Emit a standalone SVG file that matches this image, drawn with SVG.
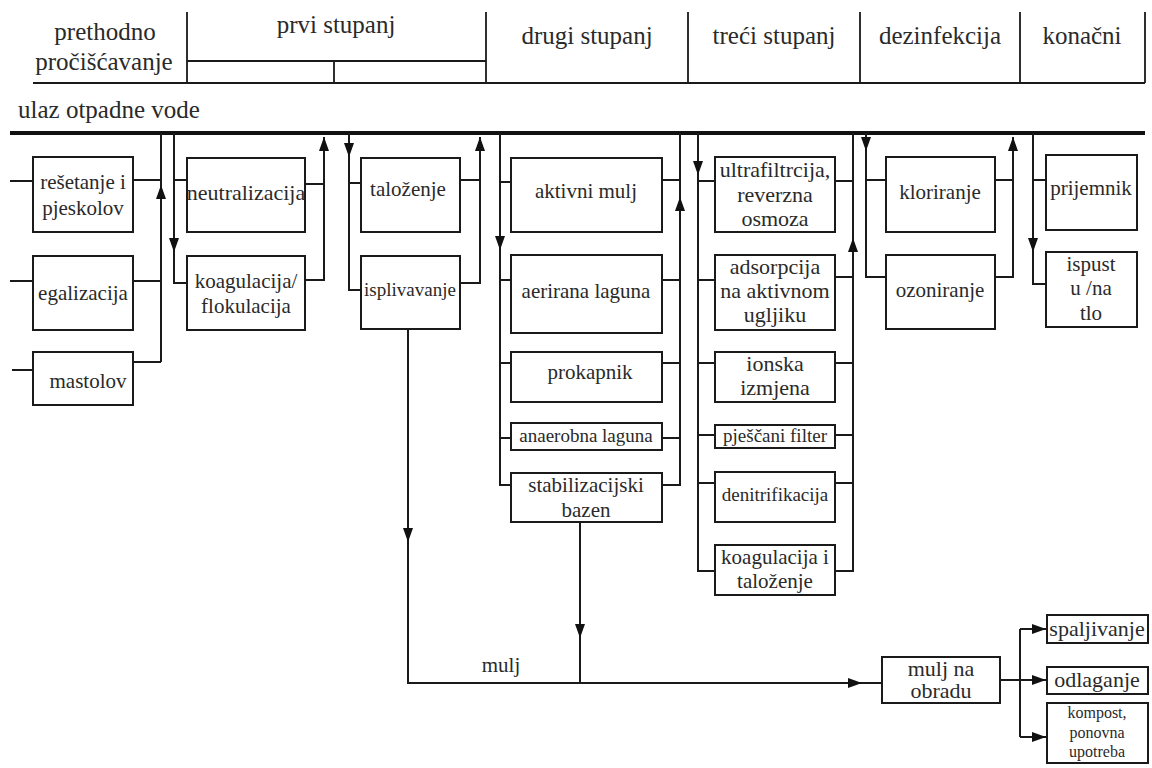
<svg xmlns="http://www.w3.org/2000/svg" width="1152" height="768" viewBox="0 0 1152 768">
<defs>
<style>
.bg{fill:#ffffff}
.box{fill:#ffffff;stroke:#1a1a1a;stroke-width:2}
.ln{fill:none;stroke:#1a1a1a;stroke-width:2}
.hd{fill:none;stroke:#1a1a1a;stroke-width:1.8}
.main{fill:none;stroke:#111111;stroke-width:4}
text{fill:#2a2a2a;text-anchor:middle}
.h{font-size:25px}
.t{font-size:21px}
.m{font-size:22px}
.s{font-size:19px}
.xs{font-size:16px}
</style>
<marker id="arr" markerUnits="userSpaceOnUse" markerWidth="14" markerHeight="10" refX="14" refY="5" orient="auto">
<path d="M0,0 L14,5 L0,10 z" fill="#111111"/>
</marker>
</defs>
<rect class="bg" x="0" y="0" width="1152" height="768"/>

<g id="header">
<path class="hd" d="M33,83 H1145 M187,12 V83 M486,12 V83 M688,12 V83 M860,12 V83 M1020,12 V83 M1145,12 V83 M187,61 H486 M334,61 V83"/>
<text class="h" font-family="Liberation Serif, serif" x="105" y="40">prethodno</text>
<text class="h" font-family="Liberation Serif, serif" x="104" y="70">pročišćavanje</text>
<text class="h" font-family="Liberation Serif, serif" x="336" y="33">prvi stupanj</text>
<text class="h" font-family="Liberation Serif, serif" x="587" y="44">drugi stupanj</text>
<text class="h" font-family="Liberation Serif, serif" x="774" y="44">treći stupanj</text>
<text class="h" font-family="Liberation Serif, serif" x="940" y="44">dezinfekcija</text>
<text class="h" font-family="Liberation Serif, serif" x="1082" y="44">konačni</text>
<text font-family="Liberation Serif, serif" x="18" y="118" style="text-anchor:start;font-size:25px">ulaz otpadne vode</text>
</g>

<g id="connectors">
<path class="main" d="M10,133 H1145"/>
<path class="ln" d="M10,181 H33 M10,281 H33 M12,370 H33"/>
<path class="ln" d="M133,180 H161 M133,281 H161 M133,362 H161"/>
<path class="ln" d="M161,362 V185" marker-end="url(#arr)"/>
<path class="ln" d="M161,185 V133"/>
<path class="ln" d="M174,133 V252" marker-end="url(#arr)"/>
<path class="ln" d="M174,252 V283 H187 M174,180 H187"/>
<path class="ln" d="M305,184 H324 M305,280 H324 V152"/>
<path class="ln" d="M324,152 V137" marker-end="url(#arr)"/>
<path class="ln" d="M349,133 V157" marker-end="url(#arr)"/>
<path class="ln" d="M349,157 V290 H361 M349,183 H361"/>
<path class="ln" d="M460,180 H480 M460,283 H480 V152"/>
<path class="ln" d="M480,152 V137" marker-end="url(#arr)"/>
<path class="ln" d="M408,330 V542" marker-end="url(#arr)"/>
<path class="ln" d="M408,542 V683 H862" marker-end="url(#arr)"/>
<path class="ln" d="M862,683 H882"/>
<path class="ln" d="M500,133 V250" marker-end="url(#arr)"/>
<path class="ln" d="M500,250 V485 H511 M500,182 H511 M500,280 H511 M500,363 H511 M500,438 H511"/>
<path class="ln" d="M662,180 H680 M662,280 H680 M662,363 H680 M662,438 H680 M662,485 H680 V212"/>
<path class="ln" d="M680,212 V197" marker-end="url(#arr)"/>
<path class="ln" d="M680,197 V133"/>
<path class="ln" d="M580,522 V638" marker-end="url(#arr)"/>
<path class="ln" d="M580,638 V683"/>
<path class="ln" d="M698,133 V175" marker-end="url(#arr)"/>
<path class="ln" d="M698,175 V571 H715 M698,181 H715 M698,280 H715 M698,363 H715 M698,435 H715 M698,483 H715"/>
<path class="ln" d="M835,181 H853 M835,277 H853 M835,363 H853 M835,435 H853 M835,483 H853 M835,571 H853 V252"/>
<path class="ln" d="M853,252 V238" marker-end="url(#arr)"/>
<path class="ln" d="M853,238 V133"/>
<path class="ln" d="M866,133 V151" marker-end="url(#arr)"/>
<path class="ln" d="M866,151 V277 H885 M866,180 H885"/>
<path class="ln" d="M995,180 H1013 M995,277 H1013 V152"/>
<path class="ln" d="M1013,152 V137" marker-end="url(#arr)"/>
<path class="ln" d="M1033,133 V252" marker-end="url(#arr)"/>
<path class="ln" d="M1033,252 V284 H1045 M1033,180 H1045"/>
<path class="ln" d="M1000,680 H1020 M1020,629 V737"/>
<path class="ln" d="M1020,629 H1046" marker-end="url(#arr)"/>
<path class="ln" d="M1020,680 H1046" marker-end="url(#arr)"/>
<path class="ln" d="M1020,737 H1046" marker-end="url(#arr)"/>
<text class="t" font-family="Liberation Serif, serif" x="501" y="672">mulj</text>
</g>

<g id="n-resetanje"><rect class="box" x="33" y="157" width="100" height="75"/><text class="t" font-family="Liberation Serif, serif" x="83" y="189">rešetanje i</text><text class="t" font-family="Liberation Serif, serif" x="83" y="215">pjeskolov</text></g>
<g id="n-egalizacija"><rect class="box" x="33" y="256" width="100" height="74"/><text class="t" font-family="Liberation Serif, serif" x="83" y="300">egalizacija</text></g>
<g id="n-mastolov"><rect class="box" x="33" y="352" width="100" height="53"/><text class="t" font-family="Liberation Serif, serif" x="88" y="388">mastolov</text></g>

<g id="n-neutralizacija"><rect class="box" x="187" y="158" width="118" height="74"/><text class="m" font-family="Liberation Serif, serif" x="246" y="200">neutralizacija</text></g>
<g id="n-koagulacija"><rect class="box" x="187" y="256" width="118" height="74"/><text class="t" font-family="Liberation Serif, serif" x="246" y="288">koagulacija/</text><text class="t" font-family="Liberation Serif, serif" x="246" y="313">flokulacija</text></g>

<g id="n-talozenje"><rect class="box" x="361" y="158" width="99" height="74"/><text class="t" font-family="Liberation Serif, serif" x="408" y="196">taloženje</text></g>
<g id="n-isplivavanje"><rect class="box" x="361" y="256" width="99" height="73"/><text class="s" font-family="Liberation Serif, serif" x="410" y="296">isplivavanje</text></g>

<g id="n-aktivni"><rect class="box" x="511" y="158" width="151" height="74"/><text class="t" font-family="Liberation Serif, serif" x="586" y="198">aktivni mulj</text></g>
<g id="n-aerirana"><rect class="box" x="511" y="255" width="151" height="78"/><text class="t" font-family="Liberation Serif, serif" x="586" y="298">aerirana laguna</text></g>
<g id="n-prokapnik"><rect class="box" x="511" y="352" width="151" height="50"/><text class="t" font-family="Liberation Serif, serif" x="590" y="379">prokapnik</text></g>
<g id="n-anaerobna"><rect class="box" x="511" y="423" width="151" height="27"/><text class="s" font-family="Liberation Serif, serif" x="586" y="442">anaerobna laguna</text></g>
<g id="n-stabilizacijski"><rect class="box" x="511" y="473" width="151" height="49"/><text class="t" font-family="Liberation Serif, serif" x="586" y="492">stabilizacijski</text><text class="t" font-family="Liberation Serif, serif" x="586" y="517">bazen</text></g>

<g id="n-ultrafiltracija"><rect class="box" x="715" y="157" width="120" height="75"/><text class="m" font-family="Liberation Serif, serif" x="775" y="177">ultrafiltrcija,</text><text class="m" font-family="Liberation Serif, serif" x="775" y="202">reverzna</text><text class="m" font-family="Liberation Serif, serif" x="775" y="226">osmoza</text></g>
<g id="n-adsorpcija"><rect class="box" x="715" y="255" width="120" height="75"/><text class="m" font-family="Liberation Serif, serif" x="775" y="274">adsorpcija</text><text class="m" font-family="Liberation Serif, serif" x="775" y="298">na aktivnom</text><text class="m" font-family="Liberation Serif, serif" x="775" y="322">ugljiku</text></g>
<g id="n-ionska"><rect class="box" x="715" y="352" width="120" height="50"/><text class="m" font-family="Liberation Serif, serif" x="775" y="371">ionska</text><text class="m" font-family="Liberation Serif, serif" x="775" y="395">izmjena</text></g>
<g id="n-pjescani"><rect class="box" x="715" y="425" width="120" height="23"/><text class="s" font-family="Liberation Serif, serif" x="775" y="442">pješčani filter</text></g>
<g id="n-denitrifikacija"><rect class="box" x="715" y="472" width="120" height="50"/><text class="s" font-family="Liberation Serif, serif" x="775" y="501">denitrifikacija</text></g>
<g id="n-koagulacija2"><rect class="box" x="715" y="545" width="120" height="50"/><text class="t" font-family="Liberation Serif, serif" x="775" y="564">koagulacija i</text><text class="t" font-family="Liberation Serif, serif" x="775" y="588">taloženje</text></g>

<g id="n-kloriranje"><rect class="box" x="886" y="157" width="109" height="75"/><text class="t" font-family="Liberation Serif, serif" x="940" y="199">kloriranje</text></g>
<g id="n-ozoniranje"><rect class="box" x="886" y="255" width="109" height="74"/><text class="t" font-family="Liberation Serif, serif" x="940" y="297">ozoniranje</text></g>

<g id="n-prijemnik"><rect class="box" x="1046" y="155" width="91" height="75"/><text class="t" font-family="Liberation Serif, serif" x="1091" y="195">prijemnik</text></g>
<g id="n-ispust"><rect class="box" x="1046" y="252" width="91" height="75"/><text class="t" font-family="Liberation Serif, serif" x="1091" y="271">ispust</text><text class="t" font-family="Liberation Serif, serif" x="1091" y="295">u /na</text><text class="t" font-family="Liberation Serif, serif" x="1091" y="320">tlo</text></g>

<g id="n-mulj-obrada"><rect class="box" x="882" y="657" width="118" height="46"/><text class="m" font-family="Liberation Serif, serif" x="941" y="676">mulj na</text><text class="m" font-family="Liberation Serif, serif" x="941" y="698">obradu</text></g>
<g id="n-spaljivanje"><rect class="box" x="1047" y="615" width="101" height="28"/><text class="m" font-family="Liberation Serif, serif" x="1097" y="636">spaljivanje</text></g>
<g id="n-odlaganje"><rect class="box" x="1047" y="667" width="101" height="27"/><text class="m" font-family="Liberation Serif, serif" x="1097" y="687">odlaganje</text></g>
<g id="n-kompost"><rect class="box" x="1047" y="703" width="101" height="60"/><text class="xs" font-family="Liberation Serif, serif" x="1097" y="718">kompost,</text><text class="xs" font-family="Liberation Serif, serif" x="1097" y="738">ponovna</text><text class="xs" font-family="Liberation Serif, serif" x="1097" y="757">upotreba</text></g>
</svg>
